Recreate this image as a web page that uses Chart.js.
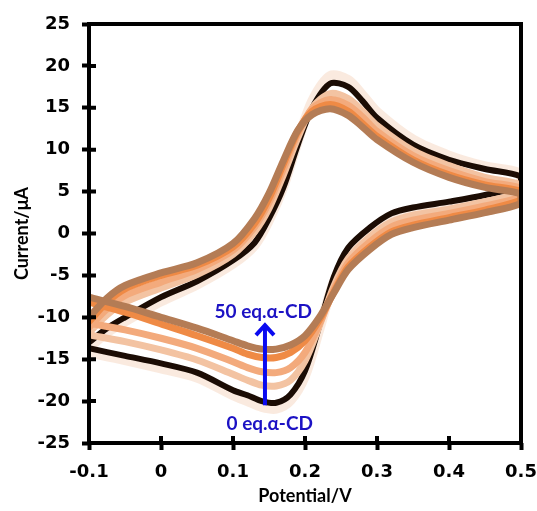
<!DOCTYPE html>
<html>
<head>
<meta charset="utf-8">
<script src="https://cdn.jsdelivr.net/npm/chart.js@4.4.1/dist/chart.umd.min.js"></script>
<style>
  html, body { margin: 0; padding: 0; background: #fff; }
  #wrap { width: 537px; height: 511px; }
</style>
</head>
<body>
<div id="wrap"><canvas id="c" width="537" height="511"></canvas></div>
<script>
// ---- Data (potential in V, current in µA) ----
const forwardPotential = [-0.1, -0.075, -0.05, 0, 0.05, 0.1, 0.13, 0.15, 0.17, 0.19, 0.21, 0.235, 0.26, 0.28, 0.3, 0.35, 0.4, 0.45, 0.5];
const reversePotential = [0.5, 0.45, 0.4, 0.35, 0.32, 0.29, 0.26, 0.24, 0.22, 0.2, 0.18, 0.16, 0.14, 0.12, 0.1, 0.05, 0, -0.05, -0.1];

// pale halo curve
const haloForward = [-13.6, -11.8, -10.5, -8.1, -6.1, -3.6, -1.4, 1.6, 5.6, 11.0, 15.8, 18.8, 18.3, 16.5, 14.5, 11.2, 9.3, 8.0, 7.1];
const haloReverse = [5.2, 4.1, 3.2, 2.4, 1.6, -0.2, -2.6, -5.8, -11.4, -17.0, -19.9, -20.9, -20.7, -20.0, -19.3, -17.2, -16.1, -15.1, -14.2];
// 0 eq. α-CD (black)
const eq0Forward = [-13.0, -11.3, -10.0, -7.6, -5.7, -3.2, -1.1, 1.8, 5.5, 10.6, 15.0, 17.9, 17.5, 15.8, 13.8, 10.6, 8.8, 7.7, 6.8];
const eq0Reverse = [5.7, 4.6, 3.8, 3.1, 2.4, 0.7, -1.7, -5.2, -11.0, -16.4, -19.2, -20.2, -20.0, -19.3, -18.7, -16.6, -15.5, -14.6, -13.7];
// intermediate (peach)
const eqAForward = [-11.8, -9.7, -8.2, -6.5, -4.9, -2.5, 0.2, 3.0, 7.0, 11.4, 15.0, 16.7, 16.1, 14.6, 12.9, 9.9, 8.1, 6.7, 5.8];
const eqAReverse = [4.9, 3.8, 2.9, 2.2, 1.4, -0.4, -3.0, -6.3, -11.0, -15.2, -17.5, -18.2, -18.1, -17.5, -16.8, -15.1, -13.9, -12.9, -12.1];
// intermediate (light orange)
const eqBForward = [-11.2, -9.0, -7.4, -5.8, -4.3, -2.0, 0.8, 3.7, 7.7, 11.9, 14.9, 16.0, 15.3, 13.9, 12.2, 9.3, 7.5, 6.2, 5.4];
const eqBReverse = [4.4, 3.3, 2.4, 1.6, 0.8, -1.0, -3.5, -6.7, -10.8, -14.2, -16.0, -16.6, -16.5, -16.0, -15.3, -13.7, -12.5, -11.5, -10.7];
// intermediate (orange)
const eqCForward = [-10.5, -8.2, -6.6, -5.0, -3.8, -1.6, 1.2, 4.2, 8.3, 12.2, 14.6, 15.4, 14.6, 13.1, 11.6, 8.8, 7.0, 5.8, 5.0];
const eqCReverse = [4.0, 2.8, 1.9, 1.0, 0.2, -1.6, -4.0, -7.0, -10.3, -12.8, -14.2, -14.8, -14.8, -14.4, -13.7, -12.2, -10.8, -9.4, -8.2];
// 50 eq. α-CD (brownish orange)
const eq50Forward = [-10.0, -7.7, -6.2, -4.7, -3.5, -1.2, 1.8, 4.8, 8.7, 12.3, 14.2, 14.9, 14.1, 12.7, 11.2, 8.5, 6.7, 5.5, 4.7];
const eq50Reverse = [3.6, 2.5, 1.6, 0.7, -0.1, -1.9, -4.3, -7.1, -10.0, -12.2, -13.3, -13.8, -13.8, -13.4, -12.8, -11.3, -10.0, -8.7, -7.6];

const xTickLabels = ['-0.1', '0', '0.1', '0.2', '0.3', '0.4', '0.5'];
const yTickLabels = ['-25', '-20', '-15', '-10', '-5', '0', '5', '10', '15', '20', '25'];

// annotation (arrow + labels) in data units
const arrowPotential = [0.1444];
const arrowCurrent = [-20.5, -10.7];
const annotationTexts = ['50 eq.\u03b1-CD', '0 eq.\u03b1-CD'];
const annotationPositions = [[0.142, -9.4], [0.151, -22.7]];

function loop(fwdY, revY) {
  const pts = forwardPotential.map((x, i) => ({ x: x, y: fwdY[i] }));
  return pts.concat(reversePotential.map((x, i) => ({ x: x, y: revY[i] })));
}

function ds(label, fwd, rev, color, width) {
  return {
    label: label,
    data: loop(fwd, rev),
    showLine: true,
    borderColor: color,
    borderWidth: width,
    pointRadius: 0,
    tension: 0.3,
    fill: false,
    borderCapStyle: 'round',
    borderJoinStyle: 'round'
  };
}

// first dataset is drawn on top
const datasets = [
  ds('50 eq.', eq50Forward, eq50Reverse, '#b47c55', 7),
  ds('40 eq.', eqCForward, eqCReverse, '#ef8a45', 7),
  ds('20 eq.', eqBForward, eqBReverse, '#f3aa7c', 7),
  ds('10 eq.', eqAForward, eqAReverse, '#f3c3a2', 7),
  ds('0 eq.', eq0Forward, eq0Reverse, '#1b0c04', 6),
  ds('halo', haloForward, haloReverse, 'rgba(245,214,192,0.5)', 10)
];

const framePlugin = {
  id: 'frame',
  afterDraw(chart) {
    const { ctx, chartArea: a, scales } = chart;
    ctx.save();
    ctx.strokeStyle = '#000';
    ctx.lineWidth = 4;
    ctx.strokeRect(a.left, a.top, a.right - a.left, a.bottom - a.top);
    // inner tick marks
    ctx.beginPath();
    scales.x.ticks.forEach((t, i) => {
      const px = scales.x.getPixelForTick(i);
      ctx.moveTo(px, a.bottom);
      ctx.lineTo(px, a.bottom - 7);
    });
    scales.y.ticks.forEach((t, i) => {
      const py = scales.y.getPixelForTick(i);
      ctx.moveTo(a.left, py);
      ctx.lineTo(a.left + 7, py);
    });
    ctx.stroke();

    // annotation arrow
    const ax = scales.x.getPixelForValue(arrowPotential[0]);
    const y0 = scales.y.getPixelForValue(arrowCurrent[0]);
    const y1 = scales.y.getPixelForValue(arrowCurrent[1]);
    ctx.strokeStyle = '#0a0af0';
    ctx.lineWidth = 4;
    ctx.lineCap = 'butt';
    ctx.beginPath();
    ctx.moveTo(ax, y0);
    ctx.lineTo(ax, y1 + 2);
    ctx.stroke();
    ctx.lineJoin = 'miter';
    ctx.beginPath();
    ctx.moveTo(ax - 9, y1 + 12);
    ctx.lineTo(ax, y1 + 2);
    ctx.lineTo(ax + 9, y1 + 12);
    ctx.stroke();

    ctx.fillStyle = '#1c12c4';
    ctx.font = 'bold 19px Lato, "Open Sans", sans-serif';
    ctx.textAlign = 'center';
    ctx.textBaseline = 'middle';
    annotationTexts.forEach((t, i) => {
      const p = annotationPositions[i];
      ctx.fillText(t, scales.x.getPixelForValue(p[0]), scales.y.getPixelForValue(p[1]));
    });
    ctx.restore();
  }
};

new Chart(document.getElementById('c'), {
  type: 'scatter',
  data: { datasets: datasets },
  options: {
    responsive: false,
    animation: false,
    devicePixelRatio: 1,
    layout: { padding: { top: 24, right: 16, bottom: 0, left: 0 } },
    plugins: { legend: { display: false }, tooltip: { enabled: false } },
    scales: {
      x: {
        type: 'linear',
        min: -0.1,
        max: 0.5,
        afterFit(s) { s.height = 68; s.paddingLeft = 0; s.paddingRight = 0; },
        afterBuildTicks(s) { s.ticks = xTickLabels.map(v => ({ value: parseFloat(v) })); },
        ticks: {
          callback: (v, i) => xTickLabels[i],
          color: '#000',
          font: { family: '"DejaVu Sans", sans-serif', size: 18, weight: 'bold' },
          padding: 12,
          maxRotation: 0,
          autoSkip: false
        },
        grid: { display: true, drawOnChartArea: false, drawTicks: true, tickLength: 7, tickWidth: 4, tickColor: '#000' },
        border: { display: false },
        title: {
          display: true,
          text: 'Potential/V',
          color: '#000',
          font: { family: 'Lato, "Open Sans", sans-serif', size: 18, weight: 'bold' },
          padding: { top: 4, bottom: 4 }
        }
      },
      y: {
        type: 'linear',
        min: -25,
        max: 25,
        afterFit(s) { s.width = 89; s.paddingTop = 0; s.paddingBottom = 0; },
        afterBuildTicks(s) { s.ticks = yTickLabels.map(v => ({ value: parseFloat(v) })); },
        ticks: {
          callback: (v, i) => yTickLabels[i],
          color: '#000',
          font: { family: '"DejaVu Sans", sans-serif', size: 18, weight: 'bold' },
          padding: 12,
          autoSkip: false
        },
        grid: { display: true, drawOnChartArea: false, drawTicks: true, tickLength: 7, tickWidth: 4, tickColor: '#000' },
        border: { display: false },
        title: {
          display: true,
          text: 'Current/\u03bcA',
          color: '#000',
          font: { family: 'Lato, "Open Sans", sans-serif', size: 18, weight: 'bold' },
          padding: { top: 11, bottom: 11 }
        }
      }
    }
  },
  plugins: [framePlugin]
});
</script>
</body>
</html>
